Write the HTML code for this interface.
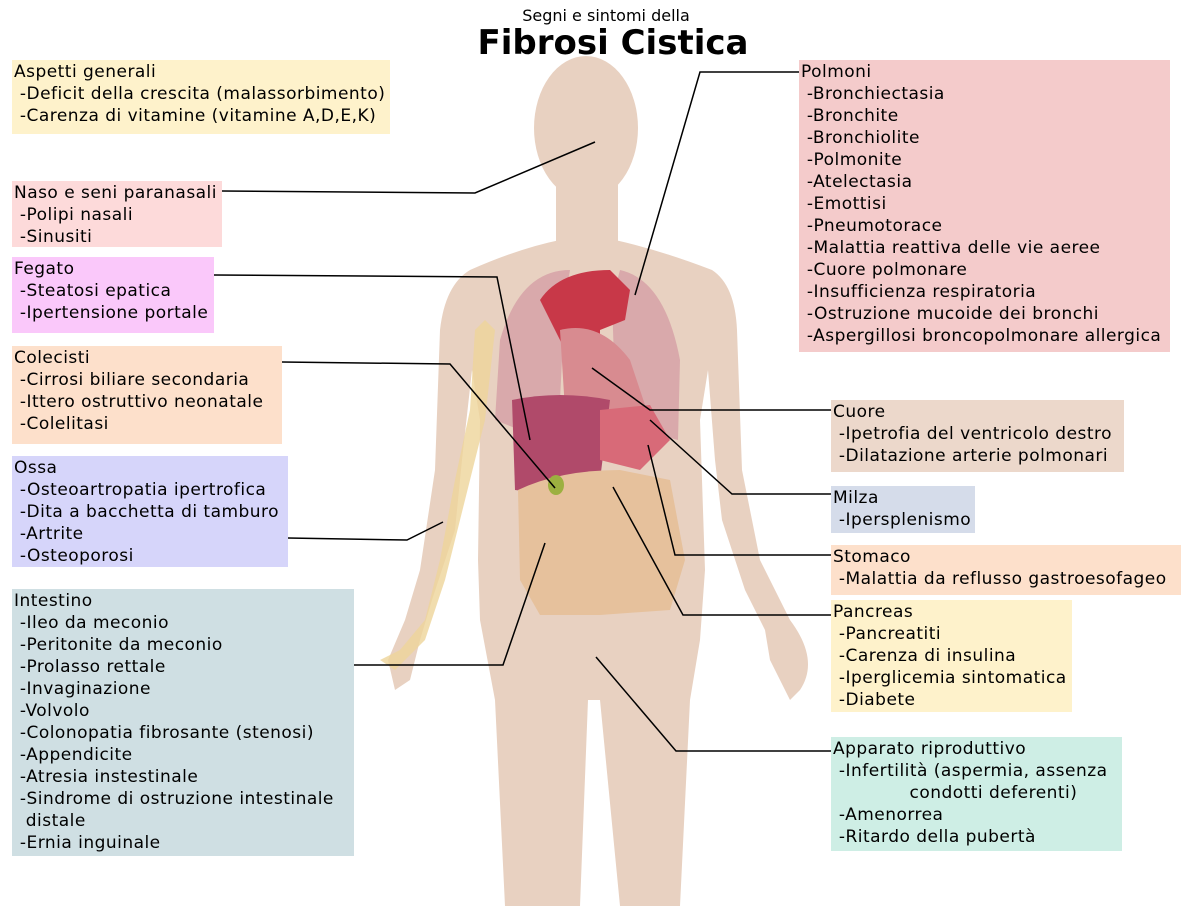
<!DOCTYPE html>
<html><head><meta charset="utf-8">
<style>
body{margin:0;width:1200px;height:906px;background:#fff;position:relative;overflow:hidden;font-family:"DejaVu Sans","Liberation Sans",sans-serif;}
.b{position:absolute;font-size:17px;letter-spacing:0.48px;line-height:22px;color:#000;padding:1px 2px;box-sizing:border-box;white-space:pre;overflow:visible}
svg{position:absolute;left:0;top:0}
</style></head><body>
<svg width="1200" height="906">
<g fill="#e8d1c1">
<ellipse cx="586" cy="128" rx="52" ry="72"/>
<rect x="556" y="180" width="62" height="80"/>
<path d="M470 270 Q520 248 560 240 L615 240 Q660 250 712 270 Q735 285 737 330 L742 470 L760 560 L790 620 Q820 660 800 690 L790 700 L770 660 L765 630 L745 590 L722 520 L715 460 L708 370 L700 420 L705 570 L700 640 L690 700 L680 906 L620 906 L600 700 L588 700 L580 906 L505 906 L495 700 L480 620 L478 560 L480 420 L472 370 L462 460 L455 530 L432 600 L420 640 L410 680 L395 690 L388 660 L405 620 L420 570 L435 470 L440 330 Q445 285 470 270 Z"/>
</g>
<path d="M485 320 L475 330 L470 410 L455 480 L440 560 L425 620 L400 650 L380 660 L395 670 L425 640 L445 580 L465 500 L485 420 L495 330 Z" fill="#eed49a" opacity="0.8"/>
<g>
<path d="M570 270 Q520 270 500 340 L495 420 L520 430 L560 400 L565 300 Z" fill="#d9a9ab"/>
<path d="M620 270 Q665 280 680 360 L678 440 L640 430 L615 390 L612 300 Z" fill="#d9a9ab"/>
<path d="M540 300 Q560 270 610 270 L630 290 L625 320 L600 330 L600 360 L570 360 Z" fill="#c83848"/>
<path d="M560 330 Q600 320 630 360 L650 420 L610 440 L565 410 Z" fill="#d88b90"/>
<path d="M512 400 Q560 390 610 400 L600 480 L560 495 L515 490 Z" fill="#b04a6a"/>
<path d="M600 410 L650 405 L670 440 L640 470 L600 460 Z" fill="#d86a78"/>
<path d="M518 490 Q560 470 620 470 L670 480 L685 560 L670 610 L600 615 L540 615 L520 580 Z" fill="#e6c19c"/>
<ellipse cx="556" cy="485" rx="8" ry="10" fill="#9cb040"/>
</g>
<g fill="none" stroke="#000" stroke-width="1.5">
<polyline points="800,72 700,72 635,295"/>
<polyline points="222,191 475,193 595,142"/>
<polyline points="214,275 497,277 530,440"/>
<polyline points="282,362 450,364 555,488"/>
<polyline points="288,538 407,540 443,522"/>
<polyline points="354,665 503,665 545,543"/>
<polyline points="831,410 650,410 592,368"/>
<polyline points="831,494 732,494 650,420"/>
<polyline points="831,555 675,555 648,445"/>
<polyline points="831,615 683,615 613,487"/>
<polyline points="831,751 676,751 596,657"/>
</g>
<text x="606" y="21" font-size="16" text-anchor="middle" font-family="DejaVu Sans,sans-serif">Segni e sintomi della</text>
<text x="613" y="54" font-size="34" font-weight="bold" text-anchor="middle" font-family="DejaVu Sans,sans-serif">Fibrosi Cistica</text>
</svg>
<div class="b" style="left:12px;top:60px;width:378px;height:74px;background:#fef2cb">Aspetti generali
 -Deficit della crescita (malassorbimento)
 -Carenza di vitamine (vitamine A,D,E,K)</div>
<div class="b" style="left:12px;top:181px;width:210px;height:66px;background:#fddada">Naso e seni paranasali
 -Polipi nasali
 -Sinusiti</div>
<div class="b" style="left:12px;top:257px;width:202px;height:76px;background:#fac8fa">Fegato
 -Steatosi epatica
 -Ipertensione portale</div>
<div class="b" style="left:12px;top:346px;width:270px;height:98px;background:#fde0cb">Colecisti
 -Cirrosi biliare secondaria
 -Ittero ostruttivo neonatale
 -Colelitasi</div>
<div class="b" style="left:12px;top:456px;width:276px;height:111px;background:#d6d5fa">Ossa
 -Osteoartropatia ipertrofica
 -Dita a bacchetta di tamburo
 -Artrite
 -Osteoporosi</div>
<div class="b" style="left:12px;top:589px;width:342px;height:267px;background:#cfdfe3">Intestino
 -Ileo da meconio
 -Peritonite da meconio
 -Prolasso rettale
 -Invaginazione
 -Volvolo
 -Colonopatia fibrosante (stenosi)
 -Appendicite
 -Atresia instestinale
 -Sindrome di ostruzione intestinale
  distale
 -Ernia inguinale</div>
<div class="b" style="left:799px;top:60px;width:371px;height:292px;background:#f4cbcb">Polmoni
 -Bronchiectasia
 -Bronchite
 -Bronchiolite
 -Polmonite
 -Atelectasia
 -Emottisi
 -Pneumotorace
 -Malattia reattiva delle vie aeree
 -Cuore polmonare
 -Insufficienza respiratoria
 -Ostruzione mucoide dei bronchi
 -Aspergillosi broncopolmonare allergica</div>
<div class="b" style="left:831px;top:400px;width:293px;height:72px;background:#ecd8cb">Cuore
 -Ipetrofia del ventricolo destro
 -Dilatazione arterie polmonari</div>
<div class="b" style="left:831px;top:486px;width:144px;height:47px;background:#d5dcea">Milza
 -Ipersplenismo</div>
<div class="b" style="left:831px;top:545px;width:350px;height:50px;background:#fde0cb">Stomaco
 -Malattia da reflusso gastroesofageo</div>
<div class="b" style="left:831px;top:600px;width:241px;height:112px;background:#fef2cb">Pancreas
 -Pancreatiti
 -Carenza di insulina
 -Iperglicemia sintomatica
 -Diabete</div>
<div class="b" style="left:831px;top:737px;width:291px;height:114px;background:#ceeee5">Apparato riproduttivo
 -Infertilità (aspermia, assenza
             condotti deferenti)
 -Amenorrea
 -Ritardo della pubertà</div>
</body></html>
